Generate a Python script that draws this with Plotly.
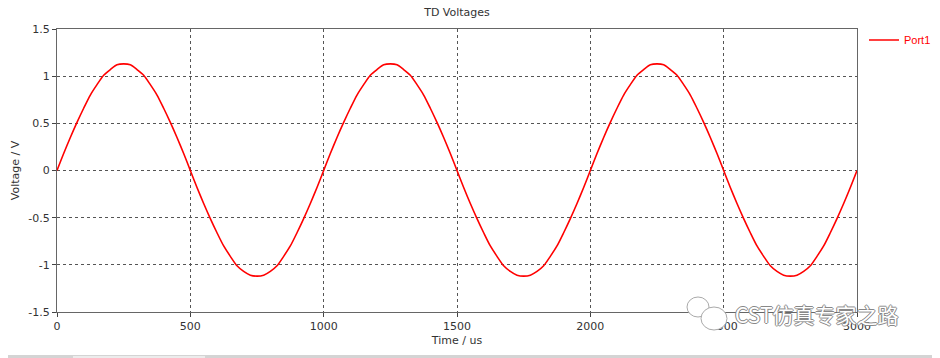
import plotly.graph_objects as go

# Time axis (us), sampled every 25 us
time_us = list(range(0, 3001, 25))

# Port1 voltage (V)
port1_v = [
    0.00, 0.18, 0.35, 0.51, 0.66, 0.80, 0.91, 1.01, 1.07, 1.12, 1.13, 1.12, 1.07, 1.01, 0.91, 0.80, 0.66, 0.51, 0.35, 0.18,
    0.00, -0.18, -0.35, -0.51, -0.66, -0.80, -0.91, -1.01, -1.07, -1.11, -1.12, -1.11, -1.07, -1.01, -0.91, -0.80, -0.66, -0.51, -0.35, -0.18,
    0.00, 0.18, 0.35, 0.51, 0.66, 0.80, 0.91, 1.01, 1.07, 1.12, 1.13, 1.12, 1.07, 1.01, 0.91, 0.80, 0.66, 0.51, 0.35, 0.18,
    0.00, -0.18, -0.35, -0.51, -0.66, -0.80, -0.91, -1.01, -1.07, -1.11, -1.12, -1.11, -1.07, -1.01, -0.91, -0.80, -0.66, -0.51, -0.35, -0.18,
    0.00, 0.18, 0.35, 0.51, 0.66, 0.80, 0.91, 1.01, 1.07, 1.12, 1.13, 1.12, 1.07, 1.01, 0.91, 0.80, 0.66, 0.51, 0.35, 0.18,
    0.00, -0.18, -0.35, -0.51, -0.66, -0.80, -0.91, -1.01, -1.07, -1.11, -1.12, -1.11, -1.07, -1.01, -0.91, -0.80, -0.66, -0.51, -0.35, -0.18,
    0.00,
]

x_ticks = [0, 500, 1000, 1500, 2000, 2500, 3000]
y_ticks = [-1.5, -1, -0.5, 0, 0.5, 1, 1.5]
y_tick_labels = ["-1.5", "-1", "-0.5", "0", "0.5", "1", "1.5"]

# page is 940x358; the html body adds an 8px offset
OFF = 8
W, H = 940 - OFF, 358 - OFF
# plot area in page pixels: x 57..857, y 29..312
L, T = 57 - OFF, 29 - OFF
R = W - (857 - OFF)
B = H - (312 - OFF)
PW, PH = W - L - R, H - T - B


def px(x):
    """page pixel x -> paper coordinate"""
    return (x - OFF - L) / PW


def py(y):
    """page pixel y -> paper coordinate"""
    return (H - B - (y - OFF)) / PH


FONT = "DejaVu Sans"

fig = go.Figure()
fig.add_trace(go.Scatter(
    x=time_us, y=port1_v, mode="lines", name="Port1",
    line=dict(color="#ff0000", width=1.6, shape="spline", smoothing=0.8),
))

fig.update_layout(
    width=W, height=H,
    margin=dict(l=L, r=R, t=T, b=B, pad=0, autoexpand=False),
    paper_bgcolor="white", plot_bgcolor="white",
    font=dict(family=FONT, size=11, color="#333333"),
    title=dict(text="TD Voltages", x=px(457), xref="paper", xanchor="center",
               y=1 - (12 - OFF) / H, yanchor="middle", automargin=False,
               font=dict(family=FONT, size=11, color="#333333")),
    showlegend=True,
    legend=dict(x=px(864), y=py(40), xref="paper", yref="paper",
                xanchor="left", yanchor="middle",
                font=dict(family="Liberation Sans", size=11, color="#ff0000"),
                bgcolor="rgba(0,0,0,0)", itemwidth=30, borderwidth=0),
    xaxis=dict(range=[0, 3000], tickvals=x_ticks, ticks="outside", ticklen=4,
               tickcolor="#444", showline=True, linecolor="#666", linewidth=1, mirror=True,
               showgrid=True, gridcolor="#555", griddash="dot", gridwidth=1,
               zeroline=False, tickfont=dict(family=FONT, size=11, color="#333"),
               automargin=False,
               title=dict(text="Time / us", standoff=4, font=dict(family=FONT, size=11, color="#333"))),
    yaxis=dict(range=[-1.5, 1.5], tickvals=y_ticks, ticktext=y_tick_labels, ticks="outside", ticklen=4,
               tickcolor="#444", showline=True, linecolor="#666", linewidth=1, mirror=True,
               showgrid=True, gridcolor="#555", griddash="dot", gridwidth=1,
               zeroline=False, tickfont=dict(family=FONT, size=11, color="#333"),
               automargin=False,
               title=dict(text="Voltage / V", standoff=6, font=dict(family=FONT, size=11, color="#333"))),
)

# bottom grey strip
fig.add_shape(type="rect", xref="paper", yref="paper",
              x0=px(0), x1=px(940), y0=py(358), y1=py(355),
              fillcolor="#d4d4d4", line=dict(width=0), layer="above")
fig.add_shape(type="rect", xref="paper", yref="paper",
              x0=px(73), x1=px(205), y0=py(358), y1=py(356),
              fillcolor="#ececec", line=dict(width=0), layer="above")

# watermark icon (two speech bubbles)
fig.add_shape(type="circle", xref="paper", yref="paper",
              x0=px(687), x1=px(709), y0=py(317), y1=py(297),
              fillcolor="white", line=dict(color="#aaaaaa", width=1), layer="above")
fig.add_shape(type="circle", xref="paper", yref="paper",
              x0=px(701), x1=px(727), y0=py(330), y1=py(307),
              fillcolor="white", line=dict(color="#aaaaaa", width=1), layer="above")

# watermark text
fig.add_annotation(text="CST仿真专家之路", xref="paper", yref="paper",
                   x=px(733), y=py(314), xanchor="left", yanchor="middle",
                   showarrow=False,
                   font=dict(family="Noto Sans CJK SC", size=21, color="white",
                             shadow="1px 0px 0px #888, -1px 0px 0px #888, 0px 1px 0px #888, 0px -1px 0px #888"))

fig.write_html("out.html")
